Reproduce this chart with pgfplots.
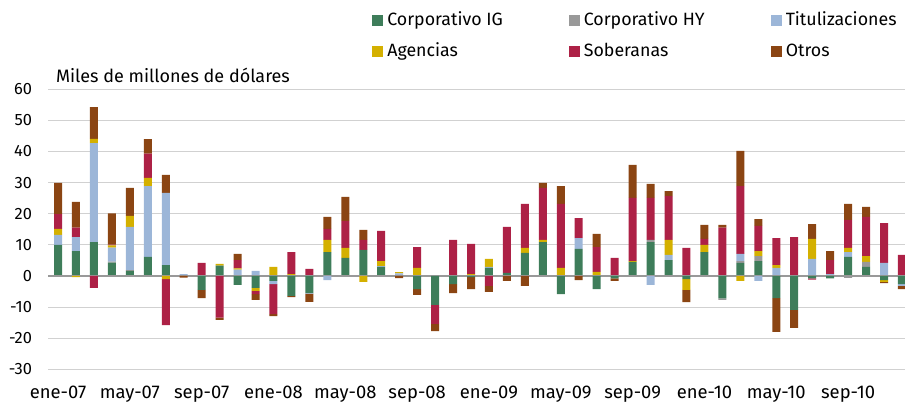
\documentclass[border=0pt]{standalone}
\usepackage{pgfplots}
\usepackage{pgfplotstable}
\pgfplotsset{compat=1.18}
\usepackage{fontspec}
\setmainfont{Fira Sans}
\definecolor{cIG}{HTML}{3E7D5A}
\definecolor{cHY}{HTML}{999999}
\definecolor{cTi}{HTML}{9CB6D8}
\definecolor{cAg}{HTML}{D4B000}
\definecolor{cSo}{HTML}{AD2146}
\definecolor{cOt}{HTML}{8B4513}
\pgfplotstableread{
x IG HY Ti Ag So Ot
0 10 0 3.2 1.9 4.8 10
1 8 0 4.5 0 3 8.3
2 10.9 0 31.8 1.4 0 10.2
3 4.3 0.3 4.5 0.7 0.3 10
4 1.6 0.3 13.9 3.5 0 9
5 6.1 0 22.8 2.6 7.8 4.7
6 3.5 0 23.2 0 0 5.8
7 0 0 0.6 0 0 0
8 0 0 0 0 4.2 0
9 3.3 0 0 0.6 0 0
10 0 0 2.0 0.4 2.7 2.0
11 0 0 1.6 0 0 0
12 0 0 0 2.9 0 0
13 0 0 0 0.6 7.1 0
14 0 0 0 0 2.3 0
15 7.7 0 0 3.9 3.5 3.9
16 5.8 0 0 3.2 8.7 7.7
17 8.4 0 0 0 3.2 3.2
18 2.9 0 0.3 1.6 9.7 0
19 0 0 0.8 0.4 0 0
20 0 0 0 2.6 6.7 0
21 0 0 0 0 0 0
22 0 0 0 0 11.6 0
23 0 0 0 0.6 9.7 0
24 2.6 0 0.3 2.6 0 0
25 1.0 0 0 0 14.8 0
26 7.4 0 0 1.6 14.2 0
27 10.9 0 0 0.7 16.7 1.6
28 0 0 0 2.6 20.6 5.7
29 8.7 0 3.5 0 6.4 0
30 0 0 0 1.3 8.0 4.2
31 0 0 0 0 5.8 0
32 4.5 0 0 0.3 20.3 10.6
33 10.9 0.7 0 0 13.5 4.5
34 5.1 0 1.7 4.8 14.1 1.6
35 0 0 0 0 9.0 0
36 7.7 0 0 2.3 1.9 4.5
37 0 0 0 0 15.5 0.9
38 4.2 0.6 2.3 0 21.8 11.3
39 4.8 1.6 0 1.6 8.1 2.2
40 0 0 2.6 0.9 8.7 0
41 0 0 0 0 12.5 0
42 0 0 5.5 6.4 0 4.8
43 0 0 0.6 0 4.5 2.9
44 6.1 0 1.6 1.3 9.0 5.2
45 2.9 1.6 0 1.9 12.6 3.2
46 0 0 4.2 0 12.8 0
47 0 0 0 0 6.8 0
}\pos
\pgfplotstableread{
x IG HY Ti Ag So Ot
0 0 0 0 0 0 0
1 0 0 0 -0.4 0 0
2 0 0 0 0 -3.8 0
3 0 0 0 0 0 0
4 0 0 0 0 0 0
5 0 0 0 0 0 0
6 0 0 0 -1.0 -14.8 0
7 0 0 0 0 0 -0.5
8 -4.5 0 0 0 0 -2.6
9 0 0 0 0 -13.4 -0.7
10 -2.9 0 0 0 0 0
11 -3.8 0 0 -1.0 -1.0 -1.9
12 -1.6 0 -1.0 0 -9.7 -0.6
13 -6.4 0 0 0 0 -0.4
14 -5.5 0 -0.2 0 0 -2.6
15 0 0 -1.3 0 0 0
16 0 0 0 0 0 0
17 0 0 0 -1.9 0 0
18 0 0 0 0 0 0
19 0 0 0 0 0 -0.7
20 -4.2 0 0 0 0 -1.9
21 -9.3 0 0 0 -6.1 -2.3
22 -2.6 0 0 0 0 -2.9
23 -0.4 0 0 0 0 -3.8
24 0 0 0 0 -3.2 -1.9
25 0 0 0 0 0 -1.6
26 0 0 0 0 0 -3.2
27 0 0 0 0 0 0
28 -5.8 0 0 0 0 0
29 0 0 0 0 0 -1.3
30 -4.2 0 0 0 0 0
31 -0.8 0 0 0 0 -0.8
32 0 0 0 0 0 0
33 0 0 -2.9 0 0 0
34 0 0 0 0 0 0
35 -1.0 0 0 -3.5 0 -3.9
36 0 0 0 0 0 0
37 -7.2 -0.5 0 0 0 0
38 0 0 0 -1.6 0 0
39 0 0 -1.6 0 0 0
40 -7.1 0 0 0 0 -10.9
41 -10.9 0 0 0 0 -5.8
42 -0.8 0 0 0 -0.4 0
43 -0.8 0 0 0 0 0
44 0 -0.6 0 0 0 0
45 0 0 0 0 0 0
46 -1.3 0 0 -0.6 0 -0.4
47 -2.6 0 -0.6 0 0 -1.0
}\negt
\pgfplotsset{
  base/.style={
    scale only axis, width=428.5pt, height=140pt,
    at={(24pt,20.35pt)}, anchor=south west,
    xmin=-0.558, xmax=47.17, ymin=-30, ymax=60,
    ybar stacked, bar width=4pt,
    /pgf/number format/assume math mode=true,
  },
}
\begin{document}
\begin{tikzpicture}
\useasboundingbox (0,0) rectangle (452.5pt,205pt);
\begin{axis}[base,
  axis line style={draw=none}, major tick style={draw=none},
  ymajorgrids, grid style={color=black!18, line width=0.5pt},
  ytick={-30,-20,...,60},
  xtick={0,4,...,44},
  xticklabels={ene-07,may-07,sep-07,ene-08,may-08,sep-08,ene-09,may-09,sep-09,ene-10,may-10,sep-10},
  yticklabel style={font=\fontsize{8.2}{9.8}\selectfont, xshift=-4.5pt},
  xticklabel style={font=\fontsize{9.2}{11}\selectfont, yshift=-5pt},
  legend columns=3,
  legend cell align=left,
  legend style={draw=none, fill=none, inner sep=0pt, at={(0.378,1.292)}, anchor=north west,
    font=\fontsize{8.9}{10.6}\selectfont, row sep=3.1pt,
    /tikz/every even column/.append style={column sep=31pt}},
  every axis plot post/.append style={legend image code/.code={\fill[##1] (0pt,-2.75pt) rectangle (5.5pt,2.75pt);}},
]
\addplot[fill=cIG, draw=none] table[x=x, y=IG] {\pos};
\addplot[fill=cHY, draw=none] table[x=x, y=HY] {\pos};
\addplot[fill=cTi, draw=none] table[x=x, y=Ti] {\pos};
\addplot[fill=cAg, draw=none] table[x=x, y=Ag] {\pos};
\addplot[fill=cSo, draw=none] table[x=x, y=So] {\pos};
\addplot[fill=cOt, draw=none] table[x=x, y=Ot] {\pos};
\legend{Corporativo IG, Corporativo HY, Titulizaciones, Agencias, Soberanas, Otros}
\end{axis}
\begin{axis}[base, hide axis]
\addplot[fill=cIG, draw=none] table[x=x, y=IG] {\negt};
\addplot[fill=cHY, draw=none] table[x=x, y=HY] {\negt};
\addplot[fill=cTi, draw=none] table[x=x, y=Ti] {\negt};
\addplot[fill=cAg, draw=none] table[x=x, y=Ag] {\negt};
\addplot[fill=cSo, draw=none] table[x=x, y=So] {\negt};
\addplot[fill=cOt, draw=none] table[x=x, y=Ot] {\negt};
\draw[color=black!40, line width=1pt] (axis cs:-0.558,0) -- (axis cs:47.17,0);
\end{axis}
\node[anchor=base west, font=\fontsize{9}{10.8}\selectfont] at (24.5pt,163.6pt) {Miles de millones de dólares};
\end{tikzpicture}
\end{document}
